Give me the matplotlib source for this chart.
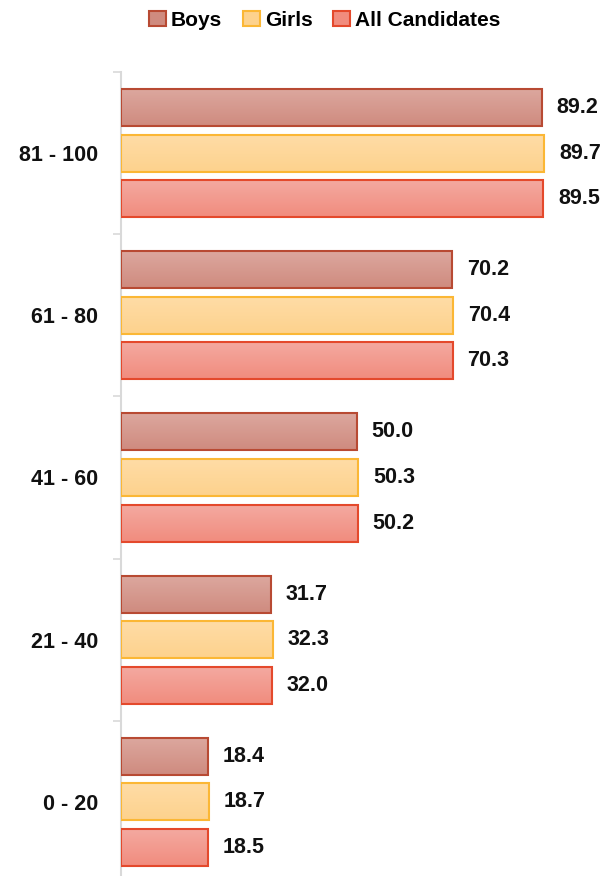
import numpy as np
import matplotlib.pyplot as plt
from matplotlib.patches import Patch
from matplotlib.colors import LinearSegmentedColormap

plt.rcParams['font.family'] = ['Liberation Sans', 'DejaVu Sans']

# score bands, bottom band first
bands = ['0 - 20', '21 - 40', '41 - 60', '61 - 80', '81 - 100']
boys = [18.4, 31.7, 50.0, 70.2, 89.2]
girls = [18.7, 32.3, 50.3, 70.4, 89.7]
all_candidates = [18.5, 32.0, 50.2, 70.3, 89.5]

series = [
    ('Boys', boys, ('#dca79e', '#cf8b7f'), '#b84a33'),
    ('Girls', girls, ('#ffdca6', '#fdd28d'), '#fbb735'),
    ('All Candidates', all_candidates, ('#f4a9a0', '#f18c7e'), '#e4492c'),
]

fig = plt.figure(figsize=(6.13, 8.76), dpi=100)
ax = fig.add_axes([121 / 613, -7 / 876, 1 - 121 / 613, 811 / 876])

y = np.arange(len(bands))
pitch = 0.281
height = 0.228

for i, (name, vals, (top_c, bot_c), edge) in enumerate(series):
    pos = y + (1 - i) * pitch
    bars = ax.barh(pos, vals, height=height, color=bot_c, edgecolor=edge,
                   linewidth=1.5, zorder=2)
    cmap = LinearSegmentedColormap.from_list(name, [bot_c, top_c])
    for b in bars:
        x0, y0 = b.get_x(), b.get_y()
        w, h = b.get_width(), b.get_height()
        grad = np.linspace(0, 1, 64).reshape(-1, 1)
        im = ax.imshow(grad, cmap=cmap, aspect='auto', origin='lower',
                       extent=[x0, x0 + w, y0, y0 + h], zorder=2.5)
        im.set_clip_path(b)
        b.set_facecolor('none')
        b.set_zorder(3)
    ax.bar_label(bars, labels=[f'{v:.1f}' for v in vals], padding=10.5,
                 fontsize=15.5, fontweight='bold', color='#111111')

ax.set_xlim(0, 492 / 4.72)
ax.set_ylim(-0.5, len(bands) - 0.5)

ax.set_yticks(y)
ax.set_yticklabels(bands, fontsize=15.5, fontweight='bold', color='#111111')
ax.tick_params(axis='y', which='major', length=0, pad=16.5)
ax.set_yticks(np.arange(-0.5, len(bands)), minor=True)
ax.tick_params(axis='y', which='minor', length=6, width=1.2, color='#d9d9d9')
ax.set_xticks([])

for s in ['top', 'right', 'bottom']:
    ax.spines[s].set_visible(False)
ax.spines['left'].set_color('#d9d9d9')
ax.spines['left'].set_linewidth(1.5)

handles = [Patch(facecolor=c[1], edgecolor=e, linewidth=1.5, label=n)
           for n, _, c, e in series]
fig.legend(handles=handles, loc='center', bbox_to_anchor=(0.53, 0.977),
           ncol=3, frameon=False, handlelength=0.8, handleheight=0.8,
           handletextpad=0.25, columnspacing=1.0,
           prop={'size': 15, 'weight': 'bold'})

fig.savefig('out.png', dpi=100)
